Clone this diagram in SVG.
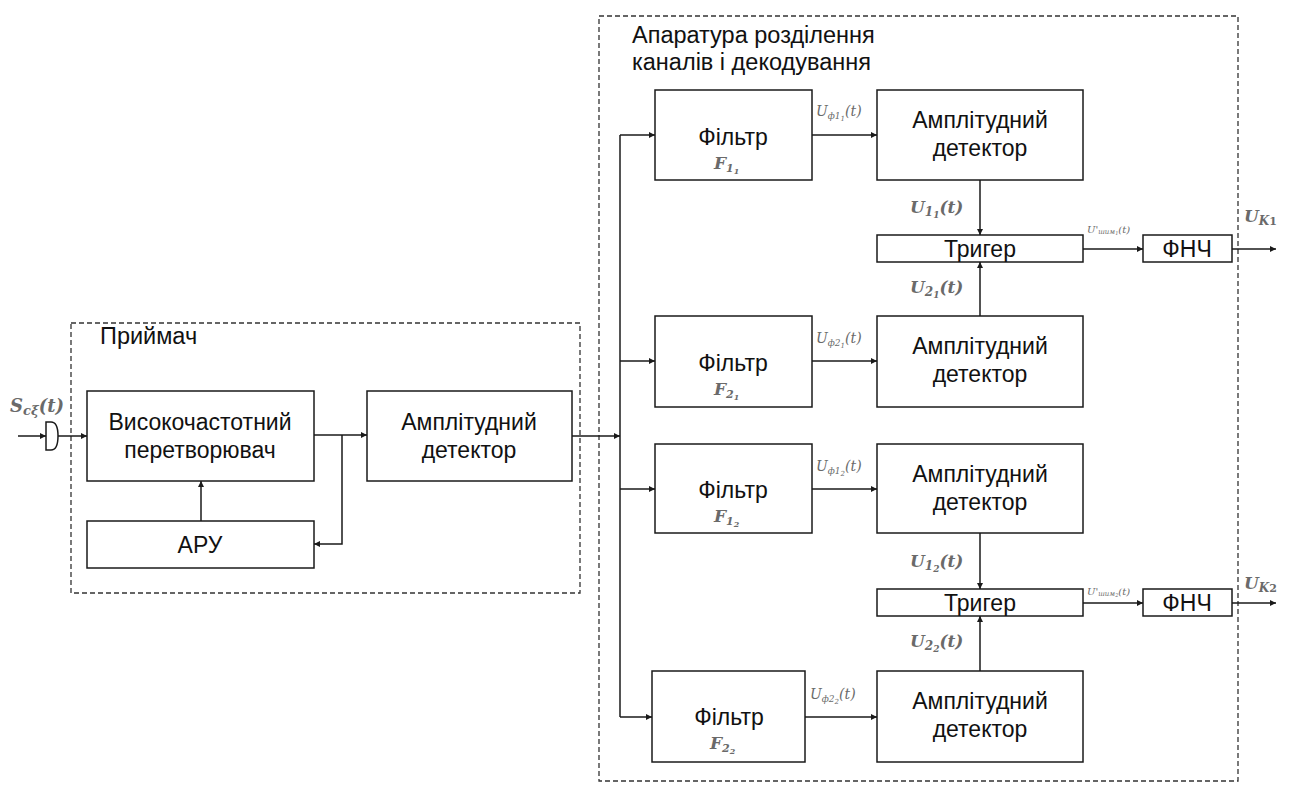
<svg xmlns="http://www.w3.org/2000/svg" width="1293" height="787" viewBox="0 0 1293 787">
<defs>
<marker id="ah" viewBox="0 0 10 10" refX="10" refY="5" markerWidth="8" markerHeight="6" markerUnits="userSpaceOnUse" orient="auto">
<path d="M0,0 L10,5 L0,10 z" fill="#1a1a1a"/>
</marker>
<style>
.box{fill:#fff;stroke:#1a1a1a;stroke-width:1.5}
.dash{fill:none;stroke:#333;stroke-width:1.3;stroke-dasharray:5 3}
.ln{fill:none;stroke:#1a1a1a;stroke-width:1.5}
.t{font-family:"Liberation Sans",Arial,sans-serif;font-size:23px;fill:#111;text-anchor:middle}
.tl{font-family:"Liberation Sans",Arial,sans-serif;font-size:23.5px;fill:#111}
.m{font-family:"DejaVu Serif","Liberation Serif",serif;font-style:italic;fill:#6a6a6a}
.f{font-family:"DejaVu Serif","Liberation Serif",serif;font-style:italic;fill:#6a6a6a;font-size:17px;font-weight:bold}
</style>
</defs>
<rect width="1293" height="787" fill="#fff"/>

<g id="receiver">
<rect class="dash" x="71" y="323" width="509" height="270"/>
<text class="tl" x="100" y="344">Приймач</text>
</g>
<g id="decoder">
<rect class="dash" x="599" y="16" width="639" height="765"/>
<text class="tl" x="632" y="43">Апаратура розділення</text>
<text class="tl" x="632" y="70">каналів і декодування</text>
</g>

<g id="input">
<text class="m" x="10" y="412" font-size="18" font-weight="bold">S<tspan font-size="13" dy="3">cξ</tspan><tspan dy="-3">(t)</tspan></text>
<path class="ln" d="M46,422 H51 Q58,422 58,436 Q58,450 51,450 H46 Z"/>
</g>

<g id="hf"><rect class="box" x="87" y="391" width="227" height="90"/>
<text class="t" x="200" y="430">Високочастотний</text><text class="t" x="200" y="458">перетворювач</text></g>
<g id="agc"><rect class="box" x="87" y="521" width="227" height="47"/>
<text class="t" x="200" y="553">АРУ</text></g>
<g id="ad0"><rect class="box" x="367" y="391" width="205" height="90"/>
<text class="t" x="469" y="430">Амплітудний</text><text class="t" x="469" y="458">детектор</text></g>

<g id="f11"><rect class="box" x="655" y="90" width="157" height="90"/>
<text class="t" x="733" y="145">Фільтр</text>
<text class="f" x="714" y="169">F<tspan font-size="11" dy="3">1</tspan><tspan font-size="8" dy="2">1</tspan></text></g>
<g id="ad11"><rect class="box" x="877" y="90" width="206" height="90"/>
<text class="t" x="980" y="128">Амплітудний</text><text class="t" x="980" y="156">детектор</text></g>

<g id="f21"><rect class="box" x="655" y="316" width="157" height="91"/>
<text class="t" x="733" y="371">Фільтр</text>
<text class="f" x="714" y="395">F<tspan font-size="11" dy="3">2</tspan><tspan font-size="8" dy="2">1</tspan></text></g>
<g id="ad21"><rect class="box" x="877" y="316" width="206" height="91"/>
<text class="t" x="980" y="354">Амплітудний</text><text class="t" x="980" y="382">детектор</text></g>

<g id="f12"><rect class="box" x="655" y="444" width="157" height="89"/>
<text class="t" x="733" y="498">Фільтр</text>
<text class="f" x="714" y="522">F<tspan font-size="11" dy="3">1</tspan><tspan font-size="8" dy="2">2</tspan></text></g>
<g id="ad12"><rect class="box" x="877" y="444" width="206" height="89"/>
<text class="t" x="980" y="482">Амплітудний</text><text class="t" x="980" y="510">детектор</text></g>

<g id="f22"><rect class="box" x="652" y="671" width="153" height="91"/>
<text class="t" x="729" y="725">Фільтр</text>
<text class="f" x="710" y="749">F<tspan font-size="11" dy="3">2</tspan><tspan font-size="8" dy="2">2</tspan></text></g>
<g id="ad22"><rect class="box" x="877" y="671" width="206" height="91"/>
<text class="t" x="980" y="709">Амплітудний</text><text class="t" x="980" y="737">детектор</text></g>

<g id="trig1"><rect class="box" x="877" y="235" width="206" height="27"/>
<text class="t" x="980" y="257">Тригер</text></g>
<g id="trig2"><rect class="box" x="877" y="589" width="206" height="27"/>
<text class="t" x="980" y="611">Тригер</text></g>
<g id="lpf1"><rect class="box" x="1143" y="235" width="89" height="27"/>
<text class="t" x="1187" y="257">ФНЧ</text></g>
<g id="lpf2"><rect class="box" x="1143" y="589" width="89" height="27"/>
<text class="t" x="1187" y="611">ФНЧ</text></g>

<g id="connectors">
<line class="ln" x1="18" y1="436" x2="46" y2="436" marker-end="url(#ah)"/>
<line class="ln" x1="58" y1="436" x2="87" y2="436" marker-end="url(#ah)"/>
<line class="ln" x1="314" y1="435" x2="367" y2="435" marker-end="url(#ah)"/>
<polyline class="ln" points="342,435 342,544 314,544" marker-end="url(#ah)"/>
<line class="ln" x1="201" y1="521" x2="201" y2="481" marker-end="url(#ah)"/>
<line class="ln" x1="572" y1="436" x2="620" y2="436" marker-end="url(#ah)"/>
<line class="ln" x1="620" y1="135" x2="620" y2="717"/>
<line class="ln" x1="620" y1="135" x2="655" y2="135" marker-end="url(#ah)"/>
<line class="ln" x1="620" y1="361" x2="655" y2="361" marker-end="url(#ah)"/>
<line class="ln" x1="620" y1="489" x2="655" y2="489" marker-end="url(#ah)"/>
<line class="ln" x1="620" y1="717" x2="652" y2="717" marker-end="url(#ah)"/>
<line class="ln" x1="812" y1="135" x2="877" y2="135" marker-end="url(#ah)"/>
<line class="ln" x1="812" y1="361" x2="877" y2="361" marker-end="url(#ah)"/>
<line class="ln" x1="812" y1="489" x2="877" y2="489" marker-end="url(#ah)"/>
<line class="ln" x1="805" y1="717" x2="877" y2="717" marker-end="url(#ah)"/>
<line class="ln" x1="980" y1="180" x2="980" y2="235" marker-end="url(#ah)"/>
<line class="ln" x1="980" y1="316" x2="980" y2="262" marker-end="url(#ah)"/>
<line class="ln" x1="980" y1="533" x2="980" y2="589" marker-end="url(#ah)"/>
<line class="ln" x1="980" y1="671" x2="980" y2="616" marker-end="url(#ah)"/>
<line class="ln" x1="1083" y1="249" x2="1143" y2="249" marker-end="url(#ah)"/>
<line class="ln" x1="1083" y1="603" x2="1143" y2="603" marker-end="url(#ah)"/>
<line class="ln" x1="1232" y1="249" x2="1276" y2="249" marker-end="url(#ah)"/>
<line class="ln" x1="1232" y1="603" x2="1276" y2="603" marker-end="url(#ah)"/>

<text class="m" x="816" y="116" font-size="14">U<tspan font-size="9" dy="3">ф1</tspan><tspan font-size="7" dy="2">1</tspan><tspan dy="-5">(t)</tspan></text>
<text class="m" x="816" y="343" font-size="14">U<tspan font-size="9" dy="3">ф2</tspan><tspan font-size="7" dy="2">1</tspan><tspan dy="-5">(t)</tspan></text>
<text class="m" x="816" y="471" font-size="14">U<tspan font-size="9" dy="3">ф1</tspan><tspan font-size="7" dy="2">2</tspan><tspan dy="-5">(t)</tspan></text>
<text class="m" x="810" y="699" font-size="14">U<tspan font-size="9" dy="3">ф2</tspan><tspan font-size="7" dy="2">2</tspan><tspan dy="-5">(t)</tspan></text>

<text class="m" x="910" y="213" font-size="17" font-weight="bold">U<tspan font-size="12" dy="3">1</tspan><tspan font-size="9" dy="2">1</tspan><tspan dy="-5">(t)</tspan></text>
<text class="m" x="910" y="293" font-size="17" font-weight="bold">U<tspan font-size="12" dy="3">2</tspan><tspan font-size="9" dy="2">1</tspan><tspan dy="-5">(t)</tspan></text>
<text class="m" x="910" y="567" font-size="17" font-weight="bold">U<tspan font-size="12" dy="3">1</tspan><tspan font-size="9" dy="2">2</tspan><tspan dy="-5">(t)</tspan></text>
<text class="m" x="910" y="647" font-size="17" font-weight="bold">U<tspan font-size="12" dy="3">2</tspan><tspan font-size="9" dy="2">2</tspan><tspan dy="-5">(t)</tspan></text>

<text class="m" x="1087" y="233" font-size="10">U'<tspan font-size="7" dy="1">шим</tspan><tspan font-size="5" dy="1">1</tspan><tspan dy="-2">(t)</tspan></text>
<text class="m" x="1087" y="595" font-size="10">U'<tspan font-size="7" dy="1">шим</tspan><tspan font-size="5" dy="1">2</tspan><tspan dy="-2">(t)</tspan></text>

<text class="m" x="1244" y="222" font-size="17" font-weight="bold">U<tspan font-size="12" dy="3">K</tspan><tspan font-size="11" font-style="normal">1</tspan></text>
<text class="m" x="1244" y="589" font-size="17" font-weight="bold">U<tspan font-size="12" dy="3">K</tspan><tspan font-size="11" font-style="normal">2</tspan></text>
</g>
</svg>
